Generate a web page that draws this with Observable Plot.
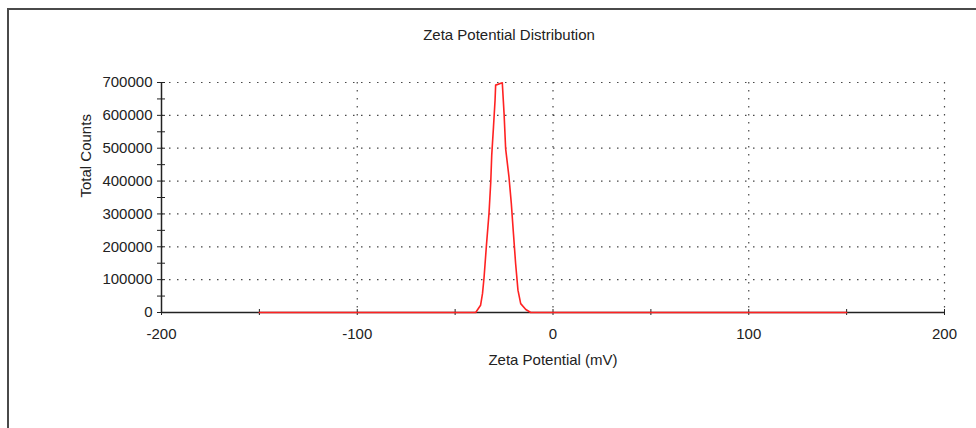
<!DOCTYPE html>
<html>
<head>
<meta charset="utf-8">
<script src="https://cdn.jsdelivr.net/npm/d3@7"></script>
<script src="https://cdn.jsdelivr.net/npm/@observablehq/plot@0.6"></script>
<style>
  html, body { margin: 0; padding: 0; background: #fff; }
  #wrap { position: relative; width: 976px; height: 428px; overflow: hidden; }
  #frame { position: absolute; left: 7px; top: 8px; width: 980px; height: 430px;
           border-top: 2px solid #4a4a4a; border-left: 2px solid #4a4a4a; }
  #wrap svg { position: absolute; left: 0; top: 0; }
</style>
</head>
<body>
<div id="wrap"><div id="frame"></div></div>
<script>
// Data
const zetaMv = [-150, -39.5, -37, -36, -35.2, -34, -32.7, -31.8, -31.3, -30.4, -29.6, -29.3,
                -25.9, -25.0, -24.2, -22.5, -21.3, -20.2, -19.1, -17.9, -16.5, -13.9, -11.4, 150];
const totalCounts = [0, 0, 22000, 58000, 108000, 205000, 301000, 397000, 479000, 565000, 646000, 692000,
                     699000, 606000, 499000, 413000, 332000, 240000, 149000, 68000, 27000, 9000, 0, 0];
const xMajorTicks = [-200, -100, 0, 100, 200];
const xMinorTicks = [-150, -50, 50, 150];
const yMajorTicks = [0, 100000, 200000, 300000, 400000, 500000, 600000, 700000];
const yMinorTicks = [50000, 150000, 250000, 350000, 450000, 550000, 650000];
const xGridTicks = [-100, 0, 100, 200];
const yGridTicks = [100000, 200000, 300000, 400000, 500000, 600000, 700000];
const titleText = "Zeta Potential Distribution";
const xLabel = "Zeta Potential (mV)";
const yLabel = "Total Counts";

const data = zetaMv.map((x, i) => ({x, y: totalCounts[i]}));
const ink = "#222";

const chart = Plot.plot({
  width: 976,
  height: 428,
  marginLeft: 161,
  marginRight: 32,
  marginTop: 82,
  marginBottom: 116,
  style: {fontFamily: "'Liberation Sans', Arial, sans-serif", fontSize: "15px", color: ink, background: "transparent"},
  x: {domain: [-200, 200], label: null},
  y: {domain: [0, 700000], label: null},
  marks: [
    Plot.gridY(yGridTicks, {stroke: "#333", strokeOpacity: 0.9, strokeDasharray: "1.5,6.5", strokeWidth: 1.2}),
    Plot.gridX(xGridTicks, {stroke: "#333", strokeOpacity: 0.9, strokeDasharray: "1.5,6.5", strokeWidth: 1.2}),
    Plot.ruleY([0], {stroke: ink, strokeWidth: 1.5}),
    Plot.ruleX([-200], {stroke: ink, strokeWidth: 1.5}),
    Plot.axisY(yMajorTicks, {tickSize: 8, dx: 4, tickPadding: 5, tickFormat: d => String(d), stroke: ink, fill: ink, label: null}),
    Plot.axisY(yMinorTicks, {tickSize: 8, dx: 4, text: null, stroke: ink, label: null}),
    Plot.axisX(xMajorTicks, {tickSize: 6, dy: -3, tickPadding: 13, tickFormat: d => String(d), stroke: ink, fill: ink, label: null}),
    Plot.axisX(xMinorTicks, {tickSize: 6, dy: -3, text: null, stroke: ink, label: null}),
    Plot.line(data, {x: "x", y: "y", stroke: "#ff2222", strokeWidth: 1.6}),
    Plot.text([titleText], {frameAnchor: "top", dx: -44, dy: -47, lineAnchor: "middle", fill: ink, fontSize: 15}),
    Plot.text([xLabel], {frameAnchor: "bottom", dy: 48, lineAnchor: "middle", fill: ink, fontSize: 15}),
    Plot.text([yLabel], {frameAnchor: "left", dx: -75, rotate: -90, lineAnchor: "middle", fill: ink, fontSize: 15})
  ]
});
document.getElementById("wrap").appendChild(chart);
</script>
</body>
</html>
